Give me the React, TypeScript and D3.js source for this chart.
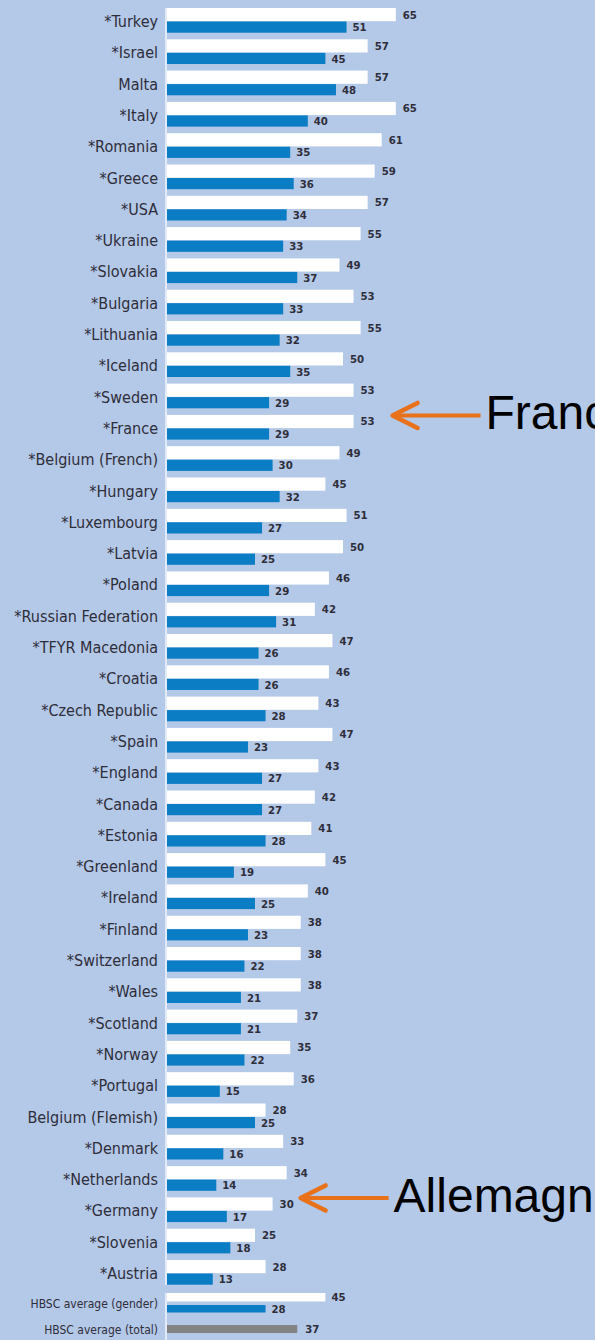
import React from "react";
import * as d3 from "d3";

const countries = [
  "*Turkey", "*Israel", "Malta", "*Italy", "*Romania", "*Greece", "*USA", "*Ukraine",
  "*Slovakia", "*Bulgaria", "*Lithuania", "*Iceland", "*Sweden", "*France",
  "*Belgium (French)", "*Hungary", "*Luxembourg", "*Latvia", "*Poland",
  "*Russian Federation", "*TFYR Macedonia", "*Croatia", "*Czech Republic", "*Spain",
  "*England", "*Canada", "*Estonia", "*Greenland", "*Ireland", "*Finland",
  "*Switzerland", "*Wales", "*Scotland", "*Norway", "*Portugal", "Belgium (Flemish)",
  "*Denmark", "*Netherlands", "*Germany", "*Slovenia", "*Austria",
];
const boys = [
  65, 57, 57, 65, 61, 59, 57, 55, 49, 53, 55, 50, 53, 53, 49, 45, 51, 50, 46, 42, 47,
  46, 43, 47, 43, 42, 41, 45, 40, 38, 38, 38, 37, 35, 36, 28, 33, 34, 30, 25, 28,
];
const girls = [
  51, 45, 48, 40, 35, 36, 34, 33, 37, 33, 32, 35, 29, 29, 30, 32, 27, 25, 29, 31, 26,
  26, 28, 23, 27, 27, 28, 19, 25, 23, 22, 21, 21, 22, 15, 25, 16, 14, 17, 18, 13,
];
const avgLabels = ["HBSC average (gender)", "HBSC average (total)"];
const avgBoys = 45;
const avgGirls = 28;
const avgTotal = 37;
const annotations = [
  { label: "France", country: "*France", gap: 38 },
  { label: "Allemagne", country: "*Germany", gap: 27 },
];

const W = 595;
const H = 1340;
const BG = "#b4c8e8";
const BLUE = "#0b7dc4";
const GRAY = "#838383";
const ORANGE = "#e8711a";
const TXT = "#2e2e3a";
const LABEL_FONT = "'DejaVu Sans Condensed', 'DejaVu Sans', sans-serif";

export default function App() {
  const x = d3.scaleLinear().domain([0, 65]).range([167, 167 + 65 * 3.52]);
  const rowY = d3.scaleLinear().domain([0, countries.length - 1]).range([8, 1260]);
  const WH = 13.2;
  const BH = 11.5;

  return (
    <svg
      width={W}
      height={H}
      style={{ position: "absolute", left: 0, top: 0, display: "block" }}
    >
      <rect x={0} y={0} width={W} height={H} fill={BG} />
      {/* axis lines */}
      <line x1={166} x2={166} y1={rowY(0)} y2={rowY(countries.length - 1) + WH + BH} stroke="#eef3fb" strokeWidth={1.6} />
      <line x1={166} x2={166} y1={1293} y2={H} stroke="#eef3fb" strokeWidth={1.6} />
      {countries.map((c, i) => {
        const y0 = rowY(i);
        const yb = y0 + WH;
        return (
          <g key={c}>
            <rect x={x(0)} y={y0} width={x(boys[i]) - x(0)} height={WH} fill="#ffffff" />
            <rect x={x(0)} y={yb + 0.3} width={x(girls[i]) - x(0)} height={BH - 0.3} fill={BLUE} />
            <text
              x={158}
              y={yb + 5.8}
              textAnchor="end"
              fontFamily={LABEL_FONT}
              fontSize={16}
              fill={TXT}
            >
              {c}
            </text>
            <text
              x={x(boys[i]) + 7}
              y={y0 + 10.5}
              fontFamily={LABEL_FONT}
              fontWeight="bold"
              fontSize={11.3}
              fill={TXT}
            >
              {boys[i]}
            </text>
            <text
              x={x(girls[i]) + 6}
              y={yb + 10}
              fontFamily={LABEL_FONT}
              fontWeight="bold"
              fontSize={11.3}
              fill={TXT}
            >
              {girls[i]}
            </text>
          </g>
        );
      })}
      {/* HBSC averages */}
      <g>
        <rect x={x(0)} y={1293} width={x(avgBoys) - x(0)} height={8.5} fill="#ffffff" />
        <rect x={x(0)} y={1305} width={x(avgGirls) - x(0)} height={7.5} fill={BLUE} />
        <text x={158} y={1307.5} textAnchor="end" fontFamily={LABEL_FONT} fontSize={12} fill={TXT}>
          {avgLabels[0]}
        </text>
        <text x={x(avgBoys) + 6} y={1301} fontFamily={LABEL_FONT} fontWeight="bold" fontSize={11.3} fill={TXT}>
          {avgBoys}
        </text>
        <text x={x(avgGirls) + 6} y={1313} fontFamily={LABEL_FONT} fontWeight="bold" fontSize={11.3} fill={TXT}>
          {avgGirls}
        </text>
        <rect x={x(0)} y={1325} width={x(avgTotal) - x(0)} height={8} fill={GRAY} />
        <text x={158} y={1333.5} textAnchor="end" fontFamily={LABEL_FONT} fontSize={12} fill={TXT}>
          {avgLabels[1]}
        </text>
        <text x={x(avgTotal) + 8} y={1333} fontFamily={LABEL_FONT} fontWeight="bold" fontSize={11.3} fill={TXT}>
          {avgTotal}
        </text>
      </g>
      {/* annotations */}
      {annotations.map((a) => {
        const i = countries.indexOf(a.country);
        const tipX = x(boys[i]) + a.gap;
        const y = rowY(i) + 0.5;
        const tailX = tipX + 89;
        return (
          <g key={a.label}>
            <line x1={tipX + 2} x2={tailX} y1={y} y2={y} stroke={ORANGE} strokeWidth={4} strokeLinecap="butt" />
            <polyline
              points={`${tipX + 26},${y - 12.5} ${tipX + 1},${y} ${tipX + 26},${y + 12.5}`}
              fill="none"
              stroke={ORANGE}
              strokeWidth={4.5}
              strokeLinecap="round"
              strokeLinejoin="round"
            />
            <text
              x={tailX + 5}
              y={y + 14}
              fontFamily="'Liberation Sans', Arial, Helvetica, sans-serif"
              fontSize={48}
              fill="#000"
            >
              {a.label}
            </text>
          </g>
        );
      })}
    </svg>
  );
}
